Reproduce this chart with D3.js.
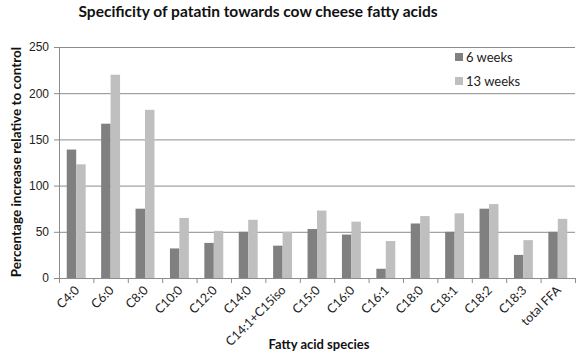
<!DOCTYPE html>
<html>
<head>
<meta charset="utf-8">
<script src="https://cdn.jsdelivr.net/npm/d3@7"></script>
<style>
  body { margin: 0; background: #fff; }
  svg { font-family: Lato, "Open Sans", sans-serif; }
</style>
</head>
<body>
<div id="chart"></div>
<script>
// données
const categories = ["C4:0", "C6:0", "C8:0", "C10:0", "C12:0", "C14:0", "C14:1+C15iso",
  "C15:0", "C16:0", "C16:1", "C18:0", "C18:1", "C18:2", "C18:3", "total FFA"];
const weeks6 = [139, 167, 75, 32, 38, 50, 35, 53, 47, 10, 59, 50, 75, 25, 50];
const weeks13 = [123, 220, 182, 65, 51, 63, 50, 73, 61, 40, 67, 70, 80, 41, 64];
const seriesNames = ["6 weeks", "13 weeks"];
const yTicks = [0, 50, 100, 150, 200, 250];

const W = 576, H = 357;
const margin = {top: 47, right: 1, bottom: 79, left: 59};
const width = W - margin.left - margin.right;
const height = H - margin.top - margin.bottom;
const colors = ["#808080", "#bfbfbf"];

const svg = d3.select("#chart").append("svg")
  .attr("width", W).attr("height", H);

const g = svg.append("g")
  .attr("transform", `translate(${margin.left},${margin.top})`);

// échelles
const x = d3.scaleBand().domain(categories).range([0, width]);
const xs = d3.scaleBand().domain(seriesNames)
  .range([x.bandwidth() * 0.225, x.bandwidth() * 0.775]);
const y = d3.scaleLinear().domain([0, 250]).range([height, 0]);

// grille
g.append("g").selectAll("line")
  .data(yTicks.filter(d => d > 0))
  .join("line")
  .attr("x1", 0).attr("x2", width)
  .attr("y1", d => y(d) + 0.5).attr("y2", d => y(d) + 0.5)
  .attr("stroke", "#8c8c8c").attr("stroke-width", 1);

// axe Y
const yAxis = g.append("g")
  .call(d3.axisLeft(y).tickValues(yTicks).tickSize(5).tickPadding(5));
yAxis.select(".domain").attr("stroke", "#8c8c8c");
yAxis.selectAll(".tick line").attr("stroke", "#8c8c8c");
yAxis.selectAll("text").attr("font-size", 12).attr("fill", "#222");

// barres
const data = categories.map((c, i) => ({cat: c, vals: [weeks6[i], weeks13[i]]}));
g.append("g").selectAll("g")
  .data(data)
  .join("g")
  .attr("transform", d => `translate(${x(d.cat)},0)`)
  .selectAll("rect")
  .data(d => d.vals.map((v, k) => ({s: seriesNames[k], v: v, k: k})))
  .join("rect")
  .attr("x", d => xs(d.s))
  .attr("width", xs.bandwidth())
  .attr("y", d => y(d.v))
  .attr("height", d => height - y(d.v))
  .attr("fill", d => colors[d.k]);

// axe X (ticks aux frontières)
const xAxis = g.append("g").attr("transform", `translate(0,${height})`);
xAxis.append("line").attr("x1", 0).attr("x2", width)
  .attr("y1", 0.5).attr("y2", 0.5).attr("stroke", "#8c8c8c");
xAxis.selectAll(".tk")
  .data(categories.concat(["end"]))
  .join("line")
  .attr("class", "tk")
  .attr("x1", (d, i) => i * x.step() + 0.5).attr("x2", (d, i) => i * x.step() + 0.5)
  .attr("y1", 0).attr("y2", 5)
  .attr("stroke", "#8c8c8c");
xAxis.selectAll("text")
  .data(categories)
  .join("text")
  .attr("transform", d => `translate(${x(d) + x.bandwidth() / 2 + 4},${13}) rotate(-45)`)
  .attr("text-anchor", "end")
  .attr("font-size", 12.5)
  .attr("fill", "#222")
  .text(d => d);

// légende
const leg = svg.append("g").attr("transform", "translate(455,53)");
seriesNames.forEach((s, i) => {
  leg.append("rect").attr("x", 0).attr("y", i * 24)
    .attr("width", 8).attr("height", 8).attr("fill", colors[i]);
  leg.append("text").attr("x", 11).attr("y", i * 24 + 9)
    .attr("font-size", 13).attr("fill", "#222").text(s);
});

// titres
svg.append("text")
  .attr("x", 258).attr("y", 17)
  .attr("text-anchor", "middle")
  .attr("font-size", 15.5).attr("font-weight", "bold").attr("fill", "#111")
  .text("Specificity of patatin towards cow cheese fatty acids");

svg.append("text")
  .attr("x", 319).attr("y", 349)
  .attr("text-anchor", "middle")
  .attr("font-size", 13).attr("font-weight", "bold").attr("fill", "#111")
  .text("Fatty acid species");

svg.append("text")
  .attr("transform", "translate(21,162) rotate(-90)")
  .attr("text-anchor", "middle")
  .attr("font-size", 13.5).attr("font-weight", "bold").attr("fill", "#111")
  .text("Percentage increase relative to control");
</script>
</body>
</html>
